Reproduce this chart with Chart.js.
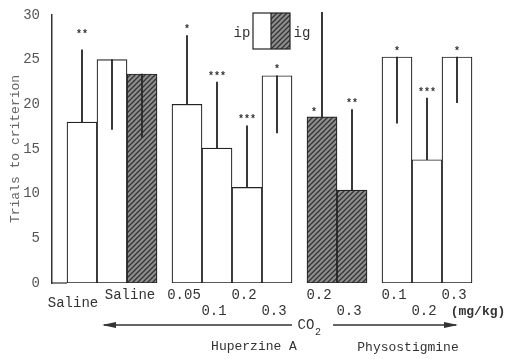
<!DOCTYPE html>
<html>
<head>
<meta charset="utf-8">
<script src="https://cdn.jsdelivr.net/npm/chart.js@4.4.0/dist/chart.umd.min.js"></script>
<style>
  html, body { margin: 0; padding: 0; background: #fff; }
  #wrap { width: 522px; height: 359px; }
</style>
</head>
<body>
<div id="wrap"><canvas id="trialsChart" width="522" height="359"></canvas></div>
<script>
// bar slots on the x axis (1 slot = one bar width)
var barX = [1, 2, 3, 4.5, 5.5, 6.5, 7.5, 9, 10, 11.5, 12.5, 13.5];
// trials to criterion (mean) and end of the error line
var trials = [18.0, 25.0, 23.4, 20.0, 15.1, 10.7, 23.2, 18.6, 10.4, 25.3, 13.8, 25.3];
var errEnd = [26.1, 17.2, 16.3, 27.7, 22.5, 17.6, 16.8, 30.3, 19.4, 17.9, 20.7, 20.2];
// route: ip = open bar, ig = hatched bar
var route = ['ip', 'ip', 'ig', 'ip', 'ip', 'ip', 'ip', 'ig', 'ig', 'ip', 'ip', 'ip'];
var stars = ['**', '', '', '*', '***', '***', '*', '*', '**', '*', '***', '*'];
// dose labels under the bars: [slot, text, row]
var doseLabels = [
    [0.7, 'Saline', 1.5], [2.6, 'Saline', 1], [4.4, '0.05', 1], [5.4, '0.1', 2],
    [6.4, '0.2', 1], [7.4, '0.3', 2], [8.9, '0.2', 1], [9.9, '0.3', 2],
    [11.4, '0.1', 1], [12.4, '0.2', 2], [13.4, '0.3', 1]
];
var yTicks = [0, 5, 10, 15, 20, 25, 30];

var mono = "'Liberation Mono', 'DejaVu Sans Mono', monospace";

function makeHatch() {
    var c = document.createElement('canvas');
    c.width = 5; c.height = 5;
    var g = c.getContext('2d');
    g.fillStyle = '#8e8e8e';
    g.fillRect(0, 0, 5, 5);
    g.strokeStyle = '#333';
    g.lineWidth = 1.3;
    g.beginPath();
    g.moveTo(0, 5); g.lineTo(5, 0);
    g.moveTo(-1, 1); g.lineTo(1, -1);
    g.moveTo(4, 6); g.lineTo(6, 4);
    g.stroke();
    return document.getElementById('trialsChart').getContext('2d').createPattern(c, 'repeat');
}
var hatch = makeHatch();

var barData = [], errData = [], fills = [];
for (var i = 0; i < barX.length; i++) {
    barData.push({x: barX[i], y: trials[i]});
    errData.push({x: barX[i], y: [trials[i], errEnd[i]]});
    fills.push(route[i] == 'ig' ? hatch : '#fff');
}

var extras = {
    id: 'extras',
    afterDatasetsDraw: function (chart) {
        var ctx = chart.ctx;
        var xs = chart.scales.x, ys = chart.scales.y;
        ctx.save();
        ctx.fillStyle = '#333';
        ctx.textAlign = 'center';
        ctx.textBaseline = 'middle';

        // short baseline piece from the y axis to the first bar
        ctx.strokeStyle = '#333';
        ctx.lineWidth = 1.2;
        ctx.beginPath();
        ctx.moveTo(xs.left, ys.bottom);
        ctx.lineTo(xs.getPixelForValue(barX[0]) - 15, ys.bottom);
        ctx.stroke();

        // significance stars
        ctx.font = 'bold 10px ' + mono;
        for (var i = 0; i < barX.length; i++) {
            if (!stars[i]) continue;
            var cx = xs.getPixelForValue(barX[i]);
            var top = Math.min(ys.getPixelForValue(trials[i]), ys.getPixelForValue(errEnd[i]));
            if (i == 0) top -= 9;
            if (i == 7) { top = ys.getPixelForValue(trials[i]) + 2; cx -= 8; }
            ctx.fillText(stars[i], cx, top - 6);
        }

        // dose labels
        ctx.font = '14px ' + mono;
        var rowY = {1: 295, 1.5: 303, 2: 311};
        doseLabels.forEach(function (d) {
            ctx.fillText(d[1], xs.getPixelForValue(d[0]), rowY[d[2]]);
        });
        ctx.font = 'bold 13px ' + mono;
        ctx.fillText('(mg/kg)', 478, 312);

        // CO2 with arrows
        ctx.font = '14px ' + mono;
        ctx.fillText('CO', 306, 325);
        ctx.font = '10px ' + mono;
        ctx.fillText('2', 318, 332);
        ctx.lineWidth = 1.4;
        ctx.beginPath();
        ctx.moveTo(104, 325); ctx.lineTo(292, 325);
        ctx.moveTo(333, 325); ctx.lineTo(456, 325);
        ctx.stroke();
        ctx.beginPath();
        ctx.moveTo(102, 325); ctx.lineTo(116, 322); ctx.lineTo(116, 328); ctx.closePath();
        ctx.moveTo(458, 325); ctx.lineTo(444, 322); ctx.lineTo(444, 328); ctx.closePath();
        ctx.fill();

        // group names
        ctx.font = '13px ' + mono;
        ctx.fillText('Huperzine A', 254, 347);
        ctx.fillText('Physostigmine', 408, 348);

        // legend box
        ctx.fillStyle = '#fff';
        ctx.fillRect(253, 13, 18, 36);
        ctx.fillStyle = hatch;
        ctx.fillRect(271, 13, 19, 36);
        ctx.strokeStyle = '#222';
        ctx.lineWidth = 1.2;
        ctx.strokeRect(253, 13, 37, 36);
        ctx.beginPath();
        ctx.moveTo(271, 13); ctx.lineTo(271, 49);
        ctx.stroke();
        ctx.fillStyle = '#333';
        ctx.font = '14px ' + mono;
        ctx.fillText('ip', 242, 33);
        ctx.fillText('ig', 302, 33);
        ctx.restore();
    }
};

new Chart(document.getElementById('trialsChart'), {
    type: 'bar',
    data: {
        datasets: [{
            label: 'error',
            data: errData,
            backgroundColor: '#2a2a2a',
            borderWidth: 0,
            barThickness: 1.2,
            grouped: false,
            clip: false,
            order: 0
        }, {
            label: 'trials',
            data: barData,
            backgroundColor: fills,
            borderColor: '#222',
            borderWidth: 1.2,
            borderSkipped: false,
            barThickness: 30,
            grouped: false,
            order: 1
        }]
    },
    options: {
        responsive: false,
        animation: false,
        events: [],
        layout: { padding: { top: 15, right: 35, bottom: 76, left: 0 } },
        plugins: { legend: { display: false }, tooltip: { enabled: false } },
        scales: {
            x: {
                type: 'linear',
                display: false,
                offset: false,
                min: 0,
                max: 14.5
            },
            y: {
                min: 0,
                max: 30,
                afterFit: function (scale) { scale.width = 52; },
                afterBuildTicks: function (scale) {
                    scale.ticks = yTicks.map(function (v) { return {value: v}; });
                },
                grid: { display: false },
                border: { display: true, color: '#333', width: 1.5 },
                ticks: { color: '#555', padding: 4, font: { family: mono, size: 14 } },
                title: {
                    display: true,
                    text: 'Trials to criterion',
                    color: '#666',
                    padding: { top: 8, bottom: 0 },
                    font: { family: mono, size: 13 }
                }
            }
        }
    },
    plugins: [extras]
});
</script>
</body>
</html>
